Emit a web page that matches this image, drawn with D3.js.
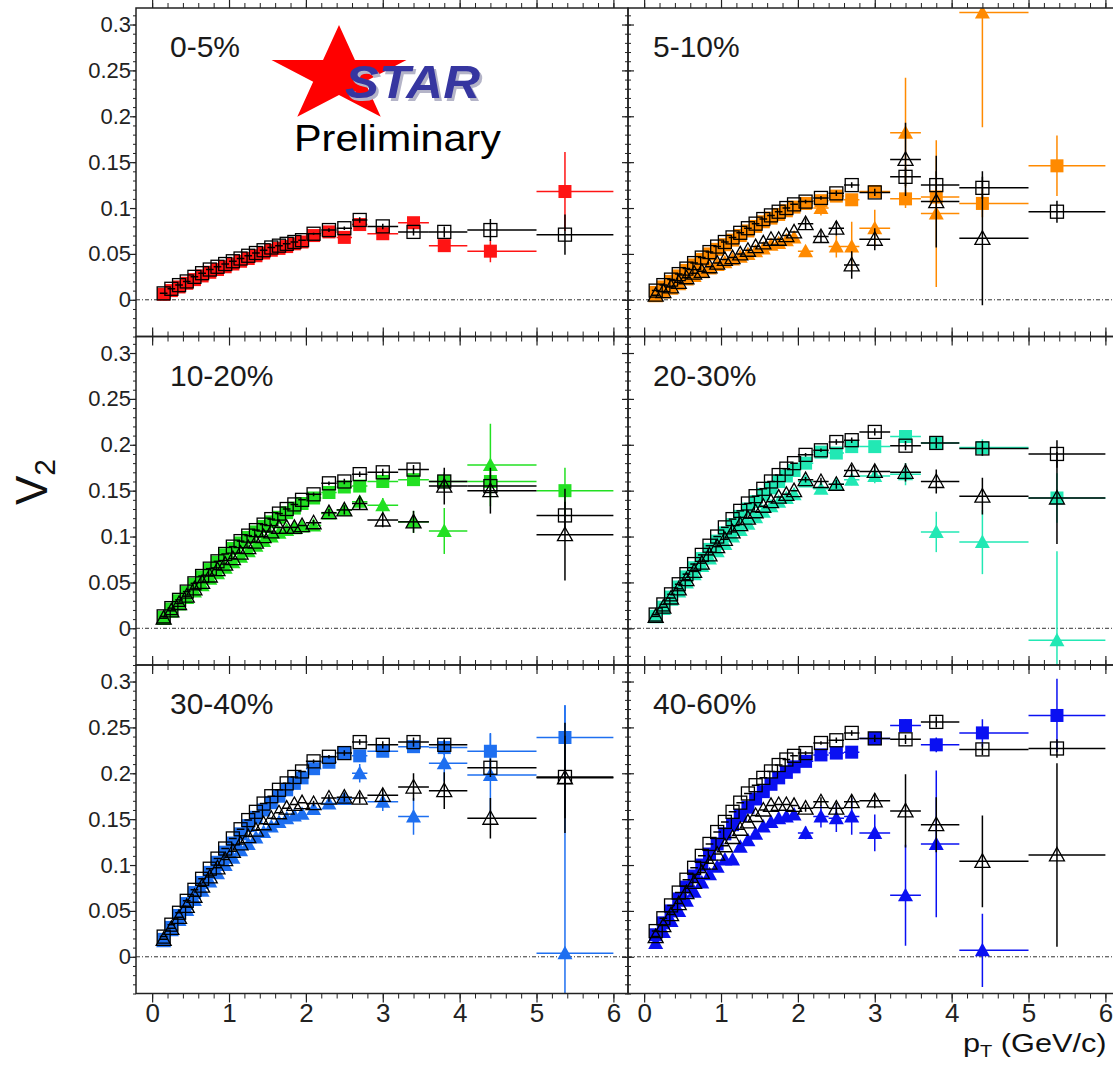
<!DOCTYPE html>
<html>
<head>
<meta charset="utf-8">
<script src="https://cdn.jsdelivr.net/npm/d3@7"></script>
<style>
  body { margin: 0; background: #ffffff; }
  svg { display: block; font-family: "Liberation Sans", Arial, Helvetica, sans-serif; }
</style>
</head>
<body>
<script>
// pT bin centres and edges (GeV/c): 19 narrow bins, then 9 wide ones
const PT = [0.15, 0.25, 0.35, 0.45, 0.55, 0.65, 0.75, 0.85, 0.95, 1.05, 1.15, 1.25, 1.35, 1.45, 1.55, 1.65, 1.75, 1.85, 1.95,
            2.1, 2.3, 2.5, 2.7, 3.0, 3.4, 3.8, 4.4, 5.37];
const PT_LO = [0.1, 0.2, 0.3, 0.4, 0.5, 0.6, 0.7, 0.8, 0.9, 1.0, 1.1, 1.2, 1.3, 1.4, 1.5, 1.6, 1.7, 1.8, 1.9,
               2.0, 2.2, 2.4, 2.6, 2.8, 3.2, 3.6, 4.1, 5.0];
const PT_HI = [0.2, 0.3, 0.4, 0.5, 0.6, 0.7, 0.8, 0.9, 1.0, 1.1, 1.2, 1.3, 1.4, 1.5, 1.6, 1.7, 1.8, 1.9, 2.0,
               2.2, 2.4, 2.6, 2.8, 3.2, 3.6, 4.1, 5.0, 6.0];
// index of the first wide bin, error arrays below start there
const FIRST_WIDE = 19;

// centrality classes and their colours
const CENTRALITIES = ["0-5%", "5-10%", "10-20%", "20-30%", "30-40%", "40-60%"];
const COLORS = ["#ff1414", "#ff8a00", "#22e022", "#22e8b4", "#1e6ff0", "#0a10f2"];

// open squares (black)
const openSquare = [
  [0.007,0.012,0.016,0.020,0.025,0.029,0.033,0.036,0.039,0.042,0.045,0.048,0.051,0.054,0.057,0.059,0.061,0.063,0.065, 0.072,0.076,0.078,0.087,0.080,0.074,0.074,0.076,0.071],
  [0.010,0.016,0.022,0.028,0.034,0.040,0.046,0.052,0.058,0.063,0.068,0.073,0.078,0.083,0.088,0.092,0.096,0.100,0.104, 0.107,0.111,0.116,0.125,0.117,0.134,0.125,0.122,0.096],
  [0.013,0.022,0.031,0.040,0.049,0.057,0.065,0.073,0.081,0.089,0.095,0.101,0.107,0.113,0.119,0.125,0.130,0.135,0.140, 0.146,0.158,0.160,0.168,0.170,0.173,0.160,0.155,0.123],
  [0.015,0.026,0.037,0.048,0.059,0.070,0.080,0.090,0.100,0.110,0.119,0.128,0.136,0.144,0.152,0.160,0.167,0.174,0.180, 0.189,0.194,0.203,0.205,0.214,0.199,0.202,0.196,0.190],
  [0.022,0.035,0.048,0.061,0.073,0.085,0.096,0.107,0.118,0.129,0.139,0.149,0.158,0.167,0.175,0.182,0.189,0.196,0.202, 0.213,0.218,0.222,0.234,0.231,0.234,0.231,0.206,0.196],
  [0.028,0.042,0.056,0.070,0.084,0.097,0.110,0.123,0.136,0.147,0.158,0.168,0.178,0.187,0.195,0.202,0.209,0.215,0.219, 0.222,0.233,0.236,0.244,0.238,0.237,0.256,0.226,0.227]
];
const openSquareErr = [
  [0.001,0.002,0.002,0.003,0.003,0.004,0.006,0.012,0.022],
  [0.002,0.002,0.003,0.003,0.004,0.010,0.015,0.012,0.012],
  [0.002,0.002,0.003,0.003,0.004,0.005,0.008,0.012,0.015],
  [0.002,0.002,0.003,0.003,0.004,0.005,0.006,0.008,0.015],
  [0.002,0.002,0.003,0.003,0.004,0.005,0.006,0.010,0.045],
  [0.002,0.002,0.003,0.003,0.004,0.005,0.006,0.006,0.010]
];

// filled squares (centrality colour)
const filledSquare = [
  [0.006,0.010,0.014,0.018,0.022,0.026,0.030,0.033,0.036,0.039,0.042,0.045,0.048,0.051,0.054,0.056,0.058,0.061,0.063, 0.070,0.074,0.068,0.082,0.072,0.084,0.059,0.053,0.118],
  [0.008,0.014,0.020,0.026,0.032,0.038,0.044,0.050,0.055,0.060,0.065,0.070,0.075,0.080,0.085,0.089,0.093,0.097,0.101, 0.105,0.108,0.113,0.109,0.118,0.110,0.112,0.105,0.146],
  [0.012,0.021,0.030,0.039,0.048,0.056,0.064,0.072,0.080,0.087,0.093,0.099,0.105,0.111,0.116,0.121,0.126,0.131,0.136, 0.142,0.148,0.154,0.155,0.160,0.162,0.160,0.160,0.150],
  [0.013,0.023,0.034,0.045,0.056,0.066,0.076,0.086,0.095,0.104,0.113,0.122,0.130,0.138,0.146,0.153,0.160,0.166,0.172, 0.180,0.192,0.191,0.198,0.198,0.209,0.202,0.197,0.142],
  [0.019,0.032,0.045,0.058,0.070,0.081,0.092,0.103,0.114,0.124,0.134,0.143,0.152,0.160,0.168,0.175,0.182,0.189,0.195, 0.205,0.212,0.222,0.219,0.224,0.229,0.228,0.224,0.239],
  [0.024,0.037,0.050,0.063,0.076,0.088,0.100,0.112,0.123,0.134,0.144,0.154,0.163,0.172,0.180,0.188,0.195,0.201,0.207, 0.213,0.220,0.222,0.223,0.238,0.252,0.231,0.244,0.263]
];
const filledSquareErr = [
  [0.002,0.003,0.004,0.005,0.004,0.006,0.006,0.012,0.043],
  [0.003,0.004,0.005,0.006,0.007,0.010,0.012,0.015,0.033],
  [0.002,0.003,0.003,0.004,0.005,0.007,0.010,0.015,0.025],
  [0.002,0.003,0.003,0.004,0.004,0.006,0.007,0.009,0.027],
  [0.002,0.003,0.003,0.004,0.005,0.006,0.008,0.020,0.035],
  [0.003,0.003,0.004,0.004,0.005,0.007,0.008,0.015,0.040]
];

// open triangles (black), none for 0-5%
const openTriangle = [
  null,
  [0.005,0.009,0.014,0.019,0.024,0.029,0.031,0.036,0.040,0.044,0.046,0.050,0.054,0.058,0.062,0.066,0.066,0.070,0.074, 0.083,0.069,0.078,0.038,0.066,0.153,0.107,0.067,null],
  [0.011,0.019,0.027,0.035,0.043,0.050,0.057,0.064,0.070,0.076,0.082,0.088,0.094,0.100,0.105,0.110,0.110,0.110,0.112, 0.115,0.126,0.129,0.136,0.118,0.116,0.155,0.150,0.102],
  [0.013,0.023,0.033,0.043,0.053,0.062,0.071,0.080,0.089,0.097,0.105,0.113,0.120,0.127,0.133,0.138,0.143,0.146,0.150, 0.162,0.160,0.157,0.172,0.171,0.170,0.160,0.144,0.142],
  [0.019,0.031,0.043,0.055,0.066,0.077,0.087,0.097,0.106,0.115,0.123,0.131,0.138,0.145,0.151,0.157,0.162,0.166,0.168, 0.167,0.173,0.174,0.173,0.176,0.185,0.181,0.151,0.195],
  [0.022,0.034,0.046,0.058,0.070,0.081,0.092,0.102,0.112,0.121,0.130,0.139,0.147,0.154,0.160,0.165,0.166,0.166,0.165, 0.162,0.169,0.162,0.169,0.170,0.159,0.144,0.104,0.111]
];
const openTriangleErr = [
  null,
  [0.006,0.007,0.008,0.015,0.012,0.040,0.050,0.073,0],
  [0.003,0.004,0.005,0.006,0.008,0.012,0.020,0.025,0.050],
  [0.003,0.004,0.005,0.006,0.007,0.010,0.013,0.020,0.050],
  [0.003,0.004,0.005,0.006,0.007,0.015,0.020,0.022,0.060],
  [0.004,0.005,0.006,0.007,0.008,0.040,0.030,0.050,0.100]
];

// filled triangles (centrality colour), none for 0-5%
const filledTriangle = [
  null,
  [0.004,0.008,0.012,0.017,0.022,0.026,0.030,0.034,0.038,0.041,0.044,0.047,0.050,0.053,0.056,0.060,0.062,0.065,0.068, 0.053,0.100,0.058,0.058,0.078,0.182,0.094,0.313,null],
  [0.010,0.018,0.026,0.033,0.040,0.047,0.054,0.060,0.066,0.072,0.078,0.084,0.090,0.095,0.100,0.104,0.107,0.109,0.111, 0.112,0.125,0.129,0.138,0.134,0.116,0.106,0.178,null],
  [0.012,0.021,0.031,0.040,0.050,0.059,0.068,0.076,0.084,0.092,0.100,0.107,0.114,0.121,0.127,0.133,0.138,0.142,0.146, 0.160,0.152,0.157,0.162,0.166,0.168,0.105,0.094,-0.013],
  [0.017,0.029,0.040,0.051,0.062,0.072,0.082,0.091,0.100,0.108,0.116,0.123,0.130,0.136,0.142,0.147,0.151,0.154,0.156, 0.161,0.167,0.172,0.200,0.169,0.153,0.211,0.198,0.004],
  [0.015,0.027,0.039,0.050,0.061,0.071,0.081,0.090,0.098,0.106,0.106,0.120,0.127,0.134,0.142,0.147,0.151,0.153,0.155, 0.135,0.153,0.151,0.153,0.135,0.067,0.123,0.007,null]
];
const filledTriangleErr = [
  null,
  [0.005,0.008,0.012,0.027,0.020,0.060,0.080,0.125,0],
  [0.003,0.004,0.005,0.006,0.008,0.012,0.025,0.045,0],
  [0.003,0.004,0.005,0.006,0.008,0.012,0.022,0.035,0.097],
  [0.004,0.005,0.006,0.010,0.010,0.020,0.020,0.045,0.270],
  [0.007,0.012,0.015,0.020,0.020,0.055,0.080,0.040,0]
];

// axis ticks and labels
const X_TICKS = [0, 1, 2, 3, 4, 5, 6];
const X_TICK_LABELS = ["0", "1", "2", "3", "4", "5", "6"];
const Y_TICKS = [0, 0.05, 0.1, 0.15, 0.2, 0.25, 0.3];
const Y_TICK_LABELS = ["0", "0.05", "0.1", "0.15", "0.2", "0.25", "0.3"];

// panel geometry
const PANEL_X = [136, 628];
const PANEL_TOP = 8;
const PANEL_W = 492;
const PANEL_H = 328.5;
const X_DOMAIN = [-0.21, 6.19];
const Y_DOMAIN = [-0.04, 0.318];

// marker sizes
const SQUARE = 13;
const TRI_HALF = 7.5;

const svg = d3.select("body").append("svg")
  .attr("width", 1113)
  .attr("height", 1065);

// draws one series: error bars first, then markers
const drawSeries = (g, x, y, values, errs, shape, color, open) => {
  if (!values) return;
  const pts = values.map((v, k) => ({
    v, pt: PT[k], lo: PT_LO[k], hi: PT_HI[k],
    e: k >= FIRST_WIDE ? errs[k - FIRST_WIDE] : 0
  })).filter(d => d.v !== null);

  const stroke = open ? "#000" : color;

  g.selectAll(null).data(pts).enter().append("line")
    .attr("x1", d => x(d.lo)).attr("x2", d => x(d.hi))
    .attr("y1", d => y(d.v)).attr("y2", d => y(d.v))
    .attr("stroke", stroke).attr("stroke-width", 1.5);

  g.selectAll(null).data(pts.filter(d => d.e > 0)).enter().append("line")
    .attr("x1", d => x(d.pt)).attr("x2", d => x(d.pt))
    .attr("y1", d => y(d.v - d.e)).attr("y2", d => y(d.v + d.e))
    .attr("stroke", stroke).attr("stroke-width", 1.5);

  if (shape === "square") {
    g.selectAll(null).data(pts).enter().append("rect")
      .attr("x", d => x(d.pt) - SQUARE / 2)
      .attr("y", d => y(d.v) - SQUARE / 2)
      .attr("width", SQUARE).attr("height", SQUARE)
      .attr("fill", open ? "none" : color)
      .attr("stroke", open ? "#000" : "none")
      .attr("stroke-width", 1.3);
  } else {
    g.selectAll(null).data(pts).enter().append("path")
      .attr("d", `M0,${-TRI_HALF}L${TRI_HALF},${TRI_HALF * 0.8}L${-TRI_HALF},${TRI_HALF * 0.8}Z`)
      .attr("transform", d => `translate(${x(d.pt)},${y(d.v)})`)
      .attr("fill", open ? "none" : color)
      .attr("stroke", open ? "#000" : "none")
      .attr("stroke-width", 1.3);
  }
};

CENTRALITIES.forEach((label, i) => {
  const col = i % 2;
  const row = Math.floor(i / 2);
  const x0 = PANEL_X[col];
  const y0 = PANEL_TOP + row * PANEL_H;

  const x = d3.scaleLinear().domain(X_DOMAIN).range([x0, x0 + PANEL_W]);
  const y = d3.scaleLinear().domain(Y_DOMAIN).range([y0 + PANEL_H, y0]);

  // clip data to the panel
  svg.append("clipPath").attr("id", `clip${i}`)
    .append("rect").attr("x", x0).attr("y", y0).attr("width", PANEL_W).attr("height", PANEL_H);

  const panel = svg.append("g");

  // dashed zero line
  panel.append("line")
    .attr("x1", x0).attr("x2", x0 + PANEL_W)
    .attr("y1", y(0)).attr("y2", y(0))
    .attr("stroke", "#333").attr("stroke-width", 1)
    .attr("stroke-dasharray", "4,2,1,2");

  const data = panel.append("g").attr("clip-path", `url(#clip${i})`);
  drawSeries(data, x, y, filledTriangle[i], filledTriangleErr[i], "triangle", COLORS[i], false);
  drawSeries(data, x, y, filledSquare[i], filledSquareErr[i], "square", COLORS[i], false);
  drawSeries(data, x, y, openTriangle[i], openTriangleErr[i], "triangle", COLORS[i], true);
  drawSeries(data, x, y, openSquare[i], openSquareErr[i], "square", COLORS[i], true);

  // inward ticks on all four sides, minor then major
  const minorX = d3.range(0, 6.01, 0.2);
  const minorY = d3.range(-0.04, 0.3151, 0.01);
  const tickAxes = [
    [d3.axisBottom(x), y0, minorX, X_TICKS, -5, -9],
    [d3.axisTop(x), y0 + PANEL_H, minorX, X_TICKS, -5, -9],
    [d3.axisRight(y), x0, minorY, Y_TICKS, -3, -6],
    [d3.axisLeft(y), x0 + PANEL_W, minorY, Y_TICKS, -3, -6]
  ];
  tickAxes.forEach(([axis, pos, minor, major, small, big], k) => {
    const t = k < 2 ? `translate(0,${pos})` : `translate(${pos},0)`;
    const gm = panel.append("g").attr("transform", t)
      .call(axis.tickValues(minor).tickSize(small).tickSizeOuter(0).tickFormat(""));
    gm.select(".domain").remove();
    gm.selectAll("line").attr("stroke", "#222");
    const gM = panel.append("g").attr("transform", t)
      .call(axis.tickValues(major).tickSize(big).tickFormat(""));
    gM.select(".domain").remove();
    gM.selectAll("line").attr("stroke", "#222").attr("stroke-width", 1.2);
  });

  // frame
  panel.append("rect")
    .attr("x", x0).attr("y", y0).attr("width", PANEL_W).attr("height", PANEL_H)
    .attr("fill", "none").attr("stroke", "#222").attr("stroke-width", 1.5);

  // y tick labels on the left column
  if (col === 0) {
    const gy = panel.append("g").attr("transform", `translate(${x0},0)`)
      .call(d3.axisLeft(y).tickValues(Y_TICKS).tickSize(0).tickPadding(5)
        .tickFormat((d, k) => Y_TICK_LABELS[k]));
    gy.select(".domain").remove();
    gy.selectAll("text")
      .attr("font-size", 22).attr("fill", "#222")
      .attr("font-family", "Liberation Sans, Arial, sans-serif");
  }

  // x tick labels on the bottom row
  if (row === 2) {
    const gx = panel.append("g").attr("transform", `translate(0,${y0 + PANEL_H})`)
      .call(d3.axisBottom(x).tickValues(X_TICKS).tickSize(0).tickPadding(10)
        .tickFormat((d, k) => X_TICK_LABELS[k]));
    gx.select(".domain").remove();
    gx.selectAll("text")
      .attr("font-size", 26).attr("fill", "#222")
      .attr("font-family", "Liberation Sans, Arial, sans-serif");
  }

  // centrality label
  panel.append("text")
    .attr("x", x0 + (col === 0 ? 34 : 25))
    .attr("y", y0 + 49)
    .attr("font-size", 30).attr("fill", "#1a1a1a")
    .text(label);
});

// y axis title, v_2
const yTitle = svg.append("text")
  .attr("transform", "translate(47,505) rotate(-90)")
  .attr("fill", "#111");
yTitle.append("tspan").attr("font-size", 44).text("V");
yTitle.append("tspan").attr("font-size", 30).attr("dy", 8).text("2");

// x axis title, p_T (GeV/c)
const xTitle = svg.append("text")
  .attr("transform", "translate(963,1052) scale(1.18,1)")
  .attr("fill", "#111");
xTitle.append("tspan").attr("font-size", 26).text("p");
xTitle.append("tspan").attr("font-size", 17).attr("dy", 5).text("T");
xTitle.append("tspan").attr("font-size", 26).attr("dy", -5).text(" (GeV/c)");

// STAR Preliminary logo
const STAR_CX = 339, STAR_CY = 75.7, STAR_R = 50.7, STAR_r = 19.4, STAR_STRETCH = 1.4;
const starPts = d3.range(10).map(k => {
  const a = -Math.PI / 2 + k * Math.PI / 5;
  const rad = k % 2 === 0 ? STAR_R : STAR_r;
  return [STAR_CX + rad * Math.cos(a) * STAR_STRETCH, STAR_CY + rad * Math.sin(a)];
});
svg.append("path")
  .attr("d", d3.line()(starPts) + "Z")
  .attr("fill", "#ff0000");

svg.append("text")
  .attr("x", 347.5).attr("y", 100.5)
  .attr("font-size", 46).attr("font-weight", "bold").attr("font-style", "italic")
  .attr("textLength", 135).attr("lengthAdjust", "spacingAndGlyphs")
  .attr("fill", "#b4b4c8")
  .text("STAR");
svg.append("text")
  .attr("x", 345).attr("y", 98)
  .attr("font-size", 46).attr("font-weight", "bold").attr("font-style", "italic")
  .attr("textLength", 135).attr("lengthAdjust", "spacingAndGlyphs")
  .attr("fill", "#3636a0")
  .text("STAR");

svg.append("text")
  .attr("x", 294).attr("y", 151)
  .attr("font-size", 37)
  .attr("textLength", 207).attr("lengthAdjust", "spacingAndGlyphs")
  .attr("fill", "#000")
  .text("Preliminary");
</script>
</body>
</html>
